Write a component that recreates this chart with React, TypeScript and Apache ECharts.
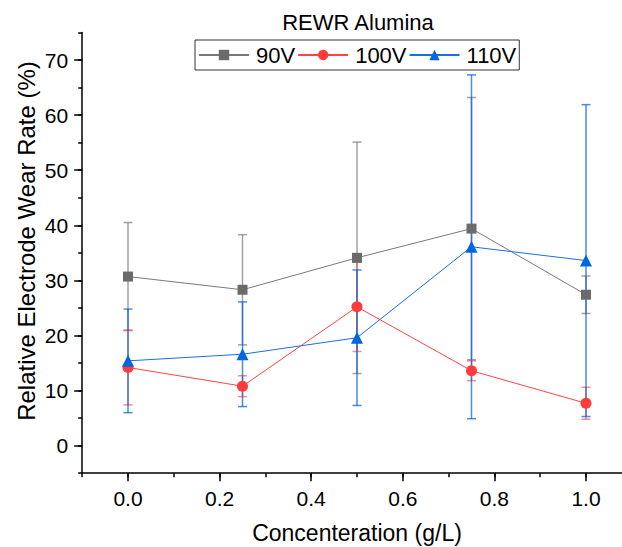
import React, { useEffect, useRef } from "react";
import * as echarts from "echarts";

const concentrations = [0, 0.25, 0.5, 0.75, 1.0];
const seriesNames = ["90V", "100V", "110V"];
const v90 = [30.7, 28.3, 34.1, 39.4, 27.4];
const e90 = [9.8, 10.0, 21.0, 23.8, 3.4];
const v100 = [14.2, 10.8, 25.2, 13.6, 7.7];
const e100 = [6.8, 1.9, 8.1, 1.8, 2.9];
const v110 = [15.4, 16.6, 19.6, 36.1, 33.6];
const e110 = [9.4, 9.5, 12.3, 31.2, 28.3];
const xTicks = [0, 0.2, 0.4, 0.6, 0.8, 1.0];
const yTicks = [0, 10, 20, 30, 40, 50, 60, 70];
const xRange = [-0.1, 1.1];
const yRange = [-5, 75];

const FONT = "'Liberation Sans', Arial, sans-serif";

// layout
const X0 = 128; // pixel of x = 0
const XS = 458; // px per unit x
const Y0 = 445.7; // pixel of y = 0
const YS = 5.51; // px per unit y

const lineColors = ["#7a7a7a", "#ff4444", "#1a6fe0"];
const markerColors = ["#6b6b6b", "#ff3b3b", "#0066e0"];
const errColors = ["rgba(120,120,120,0.7)", "rgba(255,60,60,0.6)", "rgba(10,100,220,0.75)"];
const symbols = ["rect", "circle", "triangle"];
const symbolSizes = [10, 11, 12];

export default function App() {
  const ref = useRef<HTMLDivElement>(null);
  useEffect(() => {
    const chart = echarts.init(ref.current!, null, { renderer: "svg" });
    const values = [v90, v100, v110];
    const errs = [e90, e100, e110];

    const lineSeries = values.map((vals, i) => ({
      name: seriesNames[i],
      type: "line",
      xAxisIndex: 0,
      yAxisIndex: 0,
      data: concentrations.map((c, j) => [c, vals[j]]),
      symbol: symbols[i],
      symbolSize: symbolSizes[i],
      itemStyle: { color: markerColors[i] },
      lineStyle: { color: lineColors[i], width: 1 },
      z: 3 + i,
    }));

    const errSeries = values.map((vals, i) => ({
      name: seriesNames[i] + " error",
      type: "custom",
      xAxisIndex: 0,
      yAxisIndex: 0,
      data: concentrations.map((c, j) => [c, vals[j], errs[i][j]]),
      z: 1,
      renderItem: (params: any, api: any) => {
        const x = api.value(0);
        const y = api.value(1);
        const e = api.value(2);
        const hi = api.coord([x, y + e]);
        const lo = api.coord([x, y - e]);
        const hw = 4.5;
        const style = { stroke: errColors[i], lineWidth: 1.5, fill: "none" };
        return {
          type: "group",
          children: [
            { type: "line", shape: { x1: hi[0], y1: hi[1], x2: lo[0], y2: lo[1] }, style },
            { type: "line", shape: { x1: hi[0] - hw, y1: hi[1], x2: hi[0] + hw, y2: hi[1] }, style },
            { type: "line", shape: { x1: lo[0] - hw, y1: lo[1], x2: lo[0] + hw, y2: lo[1] }, style },
          ],
        };
      },
    }));

    const axisLineStyle = { color: "#000", width: 1.5 };

    const option: any = {
      animation: false,
      backgroundColor: "#fff",
      textStyle: { fontFamily: FONT },
      graphic: [
        {
          type: "text",
          x: 358,
          y: 22,
          style: {
            text: "REWR Alumina",
            fontSize: 22,
            fontFamily: FONT,
            fill: "#000",
            align: "center",
            verticalAlign: "middle",
          },
        },
        {
          type: "text",
          x: 26,
          y: 241,
          rotation: Math.PI / 2,
          style: {
            text: "Relative Electrode Wear Rate (%)",
            fontSize: 24,
            fontFamily: FONT,
            fill: "#000",
            align: "center",
            verticalAlign: "middle",
          },
        },
      ],
      legend: {
        data: seriesNames,
        left: 195,
        top: 40,
        orient: "horizontal",
        borderColor: "#333",
        borderWidth: 1,
        padding: [4, 3, 4, 3],
        itemGap: 2,
        itemWidth: 50,
        itemHeight: 13,
        textStyle: { fontSize: 22, fontFamily: FONT, color: "#000", padding: [0, 0, 0, 2] },
      },
      grid: [
        {
          left: X0 + xRange[0] * XS,
          width: (xRange[1] - xRange[0]) * XS,
          top: Y0 - yRange[1] * YS,
          height: (yRange[1] - yRange[0]) * YS,
          containLabel: false,
          outerBoundsMode: "none",
        },
        {
          left: X0,
          width: XS,
          top: Y0 - 70 * YS,
          height: 70 * YS,
          containLabel: false,
          outerBoundsMode: "none",
        },
      ],
      xAxis: [
        {
          type: "value",
          gridIndex: 0,
          min: xRange[0],
          max: xRange[1],
          interval: 0.1,
          axisLine: { show: true, onZero: false, lineStyle: axisLineStyle },
          axisTick: { show: true, length: 4, lineStyle: axisLineStyle },
          axisLabel: { show: false },
          splitLine: { show: false },
        },
        {
          type: "value",
          gridIndex: 1,
          min: xTicks[0],
          max: xTicks[xTicks.length - 1],
          interval: 0.2,
          offset: -yRange[0] * YS,
          axisLine: { show: false, onZero: false },
          axisTick: { show: true, length: 8, lineStyle: axisLineStyle },
          axisLabel: {
            show: true,
            margin: 15,
            fontSize: 21,
            fontFamily: FONT,
            color: "#000",
            formatter: (v: number) => v.toFixed(1),
          },
          splitLine: { show: false },
          name: "Concenteration (g/L)",
          nameLocation: "middle",
          nameGap: 48,
          nameTextStyle: { fontSize: 23, fontFamily: FONT, color: "#000" },
        },
      ],
      yAxis: [
        {
          type: "value",
          gridIndex: 0,
          min: yRange[0],
          max: yRange[1],
          interval: 5,
          axisLine: { show: true, onZero: false, lineStyle: axisLineStyle },
          axisTick: { show: true, length: 4, lineStyle: axisLineStyle },
          axisLabel: { show: false },
          splitLine: { show: false },
        },
        {
          type: "value",
          gridIndex: 1,
          min: yTicks[0],
          max: yTicks[yTicks.length - 1],
          interval: 10,
          offset: -xRange[0] * XS,
          axisLine: { show: false, onZero: false },
          axisTick: { show: true, length: 8, lineStyle: axisLineStyle },
          axisLabel: {
            show: true,
            margin: 14,
            fontSize: 21,
            fontFamily: FONT,
            color: "#000",
          },
          splitLine: { show: false },
        },
      ],
      series: [...errSeries, ...lineSeries],
    };

    chart.setOption(option);
    return () => chart.dispose();
  }, []);

  return (
    <div
      ref={ref}
      style={{ position: "absolute", left: 0, top: 0, width: 622, height: 547 }}
    />
  );
}
